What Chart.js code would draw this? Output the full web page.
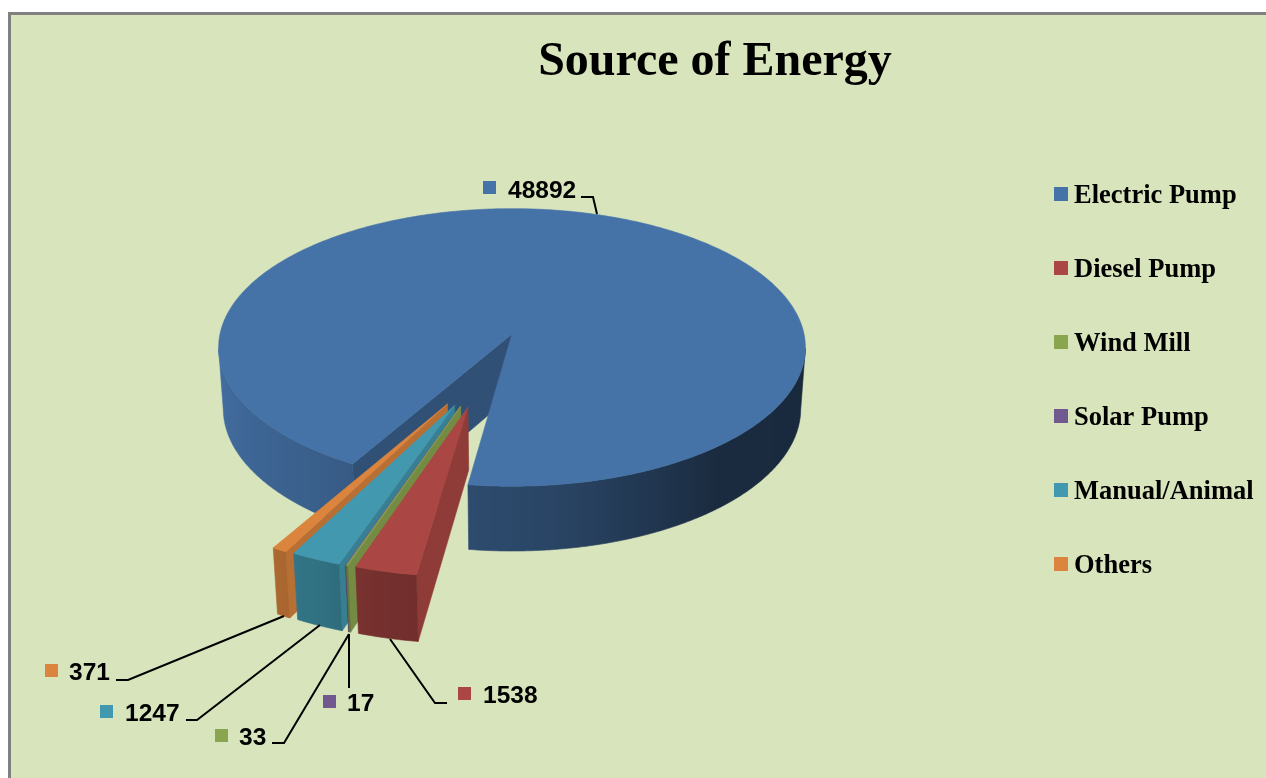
<!DOCTYPE html>
<html><head><meta charset="utf-8">
<style>
html,body{margin:0;padding:0;background:#fff;overflow:hidden}
#card{position:absolute;left:8px;top:12px;right:0;bottom:0;background:#D8E4BC;border-left:3px solid #808080;border-top:3px solid #808080;}
canvas{position:absolute;left:0;top:0}
</style>
<script src="https://cdn.jsdelivr.net/npm/chart.js@4"></script>
</head><body>
<div id="card"></div>
<div style="position:absolute;left:0;top:0;width:1266px;height:778px"><canvas id="c" width="1266" height="778"></canvas></div>
<script>
const categories = ['Electric Pump','Diesel Pump','Wind Mill','Solar Pump','Manual/Animal','Others'];
const values = [48892,1538,33,17,1247,371];
const colors = ['#4572A7','#AA4643','#89A54E','#71588F','#4198AF','#DB843D'];
const explode = [0,0.52,0.52,0.52,0.52,0.52];

// page layout of the value labels (not data)
const labelBox = [[483,181],[458,687],[215,729],[323,695],[100,705],[45,664]];
const labelText = [[508,191],[483,696],[239,738],[347,704],[125,714],[69,673]];
const leaders = [
 [[597,214],[593,197],[581,197]],
 [[390,639],[435,703],[447,703]],
 [[349,634],[284,743],[272,743]],
 [[349,634],[349,688]],
 [[320,625],[197,720],[186,720]],
 [[284,616],[128,680],[116,680]]
];
const RADIUS = 140;
const DRAW_ORDER = [0,5,4,3,2,1];

// view model of the tilted pie
const VIEW = {cx:512, cy:334, rx:292, ay:137.5, k:0.0968, depth:62, m:0.016, fan:0.5, shift:-0.025};
function project(u,v,h){
  const s = 1/(1 - VIEW.k*v + VIEW.m*h);
  return [VIEW.cx + VIEW.rx*u*s, VIEW.cy + (VIEW.ay*v + VIEW.depth*h)*s];
}
const shadeStops = [[0,.36],[50,.38],[82,.6],[103,.68],[125,.82],[180,1],[360,1]];
function wallShade(a){
  let d = ((a*180/Math.PI)%360+360)%360;
  for(let i=1;i<shadeStops.length;i++){
    if(d<=shadeStops[i][0]){
      const [x0,y0]=shadeStops[i-1],[x1,y1]=shadeStops[i];
      return y0+(y1-y0)*(d-x0)/(x1-x0);
    }
  }
  return 1;
}
function tint(hex,f){
  const n=parseInt(hex.slice(1),16);
  return `rgb(${Math.round((n>>16&255)*f)},${Math.round((n>>8&255)*f)},${Math.round((n&255)*f)})`;
}
function poly(ctx,pts,fill){
  ctx.beginPath();
  pts.forEach((p,i)=>i?ctx.lineTo(p[0],p[1]):ctx.moveTo(p[0],p[1]));
  ctx.closePath();
  ctx.fillStyle=fill; ctx.strokeStyle=fill; ctx.lineWidth=0.6;
  ctx.fill(); ctx.stroke();
}
function area(p){
  let s=0;
  for(let i=0;i<p.length;i++){const q=p[(i+1)%p.length]; s+=p[i][0]*q[1]-q[0]*p[i][1];}
  return s;
}
function drawWallRun(ctx,P,run,base){
  const top=run.map(t=>P(t,1,0)), bot=run.map(t=>P(t,1,1)).reverse();
  const xs=top.map(p=>p[0]);
  const lo=Math.min(...xs), hi=Math.max(...xs);
  let fill=tint(base,wallShade(run[Math.floor(run.length/2)]));
  if(hi-lo>1){
    fill=ctx.createLinearGradient(lo,0,hi,0);
    run.forEach((t,i)=>fill.addColorStop((xs[i]-lo)/(hi-lo),tint(base,wallShade(t))));
  }
  poly(ctx,top.concat(bot),fill);
}
function drawSlice(ctx,arc,base,refMid){
  const a0=arc.startAngle,a1=arc.endAngle,mid=(a0+a1)/2;
  const off=(arc.options.offset||0)/arc.outerRadius;
  const dir=refMid+VIEW.fan*(mid-refMid);
  const ox=off?Math.cos(dir)*off+VIEW.shift:0, oy=off?Math.sin(dir)*off:0;
  const P=(a,r,h)=>project(ox+r*Math.cos(a),oy+r*Math.sin(a),h);
  const n=Math.max(4,Math.ceil((a1-a0)/(Math.PI/360)));
  const da=(a1-a0)/n;
  // cut faces
  const fs=[P(a0,0,0),P(a0,1,0),P(a0,1,1),P(a0,0,1)];
  const fe=[P(a1,0,0),P(a1,1,0),P(a1,1,1),P(a1,0,1)];
  const cut=off?.84:.7;
  if(area(fe)>0) poly(ctx,fe,tint(base,cut));
  if(area(fs)<0) poly(ctx,fs,tint(base,cut));
  // outer wall: visible from the widest point of the rim round the front
  let run=[];
  for(let i=0;i<=n;i++){
    const t=a0+i*da;
    if(Math.sin(t)>=VIEW.k) run.push(t);
    else { if(run.length>1) drawWallRun(ctx,P,run,base); run=[]; }
  }
  if(run.length>1) drawWallRun(ctx,P,run,base);
  // top
  const top=[P(a0,0,0)];
  for(let i=0;i<=n;i++) top.push(P(a0+i*da,1,0));
  poly(ctx,top,base);
}
const pie3d = {
  id:'pie3d',
  afterLayout(chart){
    const t=chart.titleBlock; t.left=164; t.right=1266;
    const l=chart.legend, pad=l.options.labels.padding;
    l.left=1054-pad; l.top=183-pad;
  },
  beforeDatasetsDraw(chart){
    const ctx=chart.ctx, arcs=chart.getDatasetMeta(0).data;
    const refMid=(arcs[1].startAngle+arcs[1].endAngle)/2;
    ctx.save();
    DRAW_ORDER.forEach(i=>drawSlice(ctx,arcs[i],colors[i],refMid));
    // value labels
    ctx.strokeStyle='#000'; ctx.lineWidth=2; ctx.lineJoin='miter';
    leaders.forEach(pts=>{
      ctx.beginPath();
      pts.forEach((p,j)=>j?ctx.lineTo(p[0],p[1]):ctx.moveTo(p[0],p[1]));
      ctx.stroke();
    });
    ctx.font='bold 24.5px "Liberation Sans"';
    ctx.textBaseline='middle'; ctx.textAlign='left';
    values.forEach((v,i)=>{
      ctx.fillStyle=colors[i];
      ctx.fillRect(labelBox[i][0],labelBox[i][1],13,13);
      ctx.fillStyle='#000';
      ctx.fillText(String(v),labelText[i][0],labelText[i][1]);
    });
    ctx.restore();
    return false;
  },
  afterDraw(chart){
    // legend key is a little wider than the gap the library leaves for it
    const ctx=chart.ctx;
    chart.legend.legendHitBoxes.forEach((b,i)=>{
      ctx.fillStyle=colors[i];
      ctx.fillRect(1054,187+i*74,14,14);
    });
  }
};
new Chart(document.getElementById('c'),{
  type:'pie',
  plugins:[pie3d],
  data:{labels:categories,datasets:[{data:values,backgroundColor:colors,borderWidth:0,offset:explode.map(e=>e*RADIUS)}]},
  options:{
    responsive:false,animation:false,rotation:210,radius:RADIUS,
    plugins:{
      tooltip:{enabled:false},
      title:{display:true,text:'Source of Energy',color:'#000',padding:{top:34,bottom:10},
        font:{family:'"Liberation Serif"',size:48,weight:'bold'}},
      legend:{position:'right',align:'start',
        labels:{color:'#000',boxWidth:6.75,boxHeight:8,padding:47.5,
          font:{family:'"Liberation Serif"',size:26.5,weight:'bold'}}}
    }
  }
});
</script>
</body></html>
